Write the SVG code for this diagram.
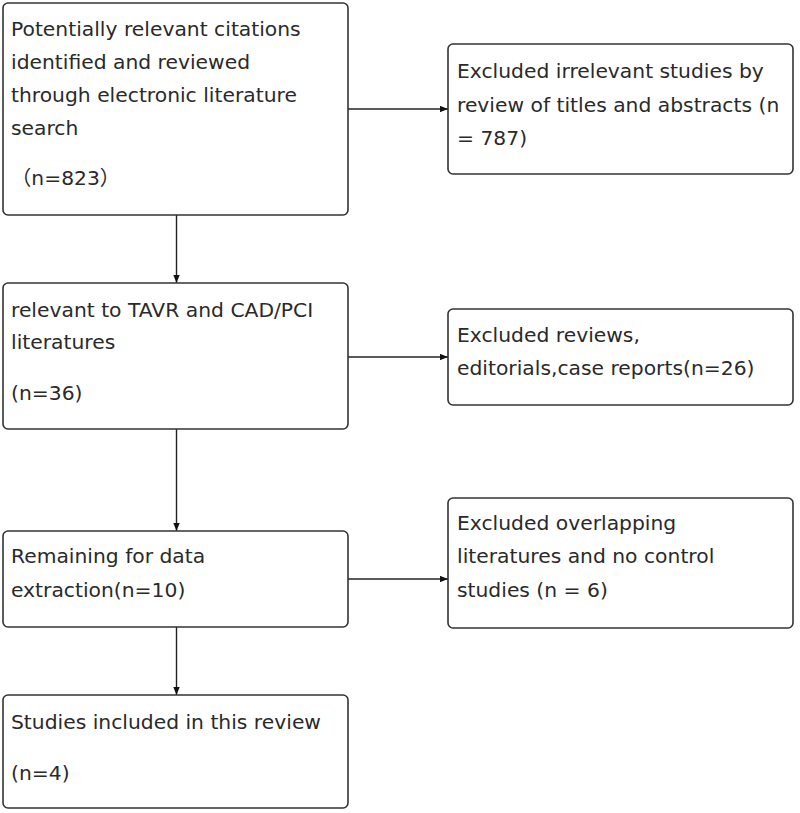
<svg xmlns="http://www.w3.org/2000/svg" width="800" height="813" viewBox="0 0 800 813">
<style>
.box{fill:#fff;stroke:#333;stroke-width:1.6}
.t{font-family:"DejaVu Sans","Noto Sans CJK SC",sans-serif;font-size:20.3px;fill:#2a2a2a}
.c{stroke:#222;stroke-width:1.4;fill:none;marker-end:url(#ah)}
</style>
<defs>
<marker id="ah" viewBox="0 0 10 8" refX="10" refY="4" markerWidth="8" markerHeight="6.4" orient="auto" markerUnits="userSpaceOnUse">
<path d="M0,0 L10,4 L0,8 z" fill="#111"/>
</marker>
</defs>
<rect width="800" height="813" fill="#fff"/>
<g id="connectors">
<line class="c" x1="348" y1="109" x2="448" y2="109"/>
<line class="c" x1="176.5" y1="215" x2="176.5" y2="283"/>
<line class="c" x1="348" y1="357" x2="448" y2="357"/>
<line class="c" x1="176.5" y1="429" x2="176.5" y2="531"/>
<line class="c" x1="348" y1="579" x2="448" y2="579"/>
<line class="c" x1="176.5" y1="627" x2="176.5" y2="695"/>
</g>
<g id="n1">
<rect class="box" x="3" y="3" width="345" height="212" rx="5"/>
<text class="t" x="11" y="36">Potentially relevant citations</text>
<text class="t" x="11" y="69">identified and reviewed</text>
<text class="t" x="11" y="102">through electronic literature</text>
<text class="t" x="11" y="135">search</text>
<text class="t" x="11" y="185">（n=823）</text>
</g>
<g id="n2">
<rect class="box" x="448" y="44" width="345" height="130" rx="5"/>
<text class="t" x="457" y="78">Excluded irrelevant studies by</text>
<text class="t" x="457" y="112">review of titles and abstracts (n</text>
<text class="t" x="457" y="145">= 787)</text>
</g>
<g id="n3">
<rect class="box" x="3" y="283" width="345" height="146" rx="5"/>
<text class="t" x="11" y="317">relevant to TAVR and CAD/PCI</text>
<text class="t" x="11" y="349">literatures</text>
<text class="t" x="11" y="400">(n=36)</text>
</g>
<g id="n4">
<rect class="box" x="448" y="309" width="345" height="96" rx="5"/>
<text class="t" x="457" y="342">Excluded reviews,</text>
<text class="t" x="457" y="375">editorials,case reports(n=26)</text>
</g>
<g id="n5">
<rect class="box" x="3" y="531" width="345" height="96" rx="5"/>
<text class="t" x="11" y="563">Remaining for data</text>
<text class="t" x="11" y="597">extraction(n=10)</text>
</g>
<g id="n6">
<rect class="box" x="448" y="498" width="345" height="130" rx="5"/>
<text class="t" x="457" y="530">Excluded overlapping</text>
<text class="t" x="457" y="563">literatures and no control</text>
<text class="t" x="457" y="597">studies (n = 6)</text>
</g>
<g id="n7">
<rect class="box" x="3" y="695" width="345" height="113" rx="5"/>
<text class="t" x="11" y="729">Studies included in this review</text>
<text class="t" x="11" y="780">(n=4)</text>
</g>
</svg>
